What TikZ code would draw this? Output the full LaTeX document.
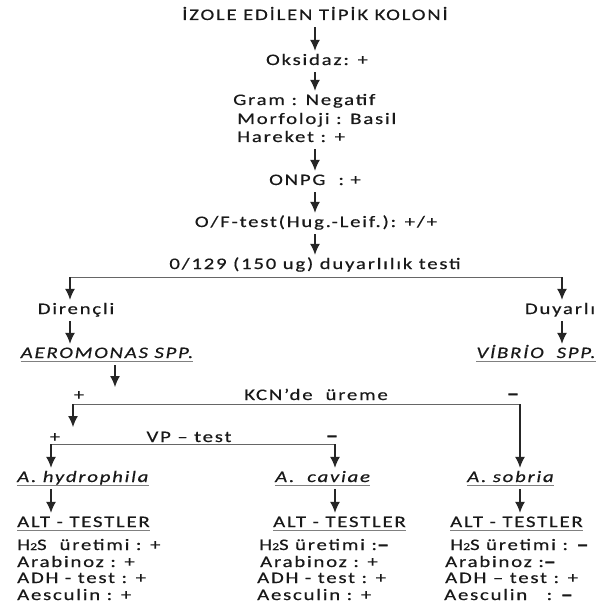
\documentclass[tikz,border=0pt]{standalone}
\usepackage{fontspec}
\setmainfont{Carlito}[FakeStretch=1.3,LetterSpace=11,FakeBold=0.4]
\newfontfamily\dashfont{Carlito}[FakeStretch=1.5,FakeBold=3.5]
\usetikzlibrary{arrows.meta}
\newcommand{\hts}{H{\fontsize{10.5}{10}\selectfont 2}S}
\newcommand{\bm}{{\dashfont\bfseries –}}
\begin{document}
\begin{tikzpicture}[x=1pt,y=-1pt,
  txt/.style={inner xsep=0pt,inner ysep=4pt,text height=10pt,text depth=3pt,anchor=base,font=\fontsize{16}{18}\selectfont,text=black!90},
  ltxt/.style={txt,anchor=base west},
  lst/.style={ltxt,inner ysep=0pt},
  itxt/.style={txt,font=\fontsize{16}{18}\selectfont\itshape},
  arr/.style={draw=black!85,line width=1.2pt,-{Latex[length=11pt,width=10pt]}},
  ln/.style={draw=black!60,line width=1pt},
  ul/.style={draw=black!50,line width=0.8pt}]
\useasboundingbox (0,0) rectangle (608,607);
\fill[white] (0,0) rectangle (608,607);
% main chain
\node[txt] (title) at (315,20) {İZOLE EDİLEN TİPİK KOLONİ};
\node[txt] (oks) at (317,65) {Oksidaz: +};
\node[ltxt] (gram) at (233,105) {Gram : Negatif};
\node[lst] (morf) at (237,124) {Morfoloji : Basil};
\node[ltxt] (har) at (237,142) {Hareket : +};
\node[txt] (onpg) at (315,185) {ONPG\ \ : +};
\node[txt] (of) at (316,227) {O/F-test(Hug.-Leif.): +/+};
\node[txt] (t129) at (315,269) {0/129 (150 ug) duyarlılık testi};
\node[txt] (dir) at (76,314) {Dirençli};
\node[txt] (duy) at (560,314) {Duyarlı};
\node[itxt] (aer) at (107,358) {AEROMONAS SPP.};
\node[itxt] (vib) at (536,358) {VİBRİO\ \ SPP.};
% KCN row
\node[txt] (kp) at (79,400) {+};
\node[txt] (kcn) at (316,400) {KCN’de\ \ üreme};
\node[txt] (km) at (513,399) {\bm};
% VP row
\node[txt] (vp) at (55,442) {+};
\node[txt] (vpt) at (189,442) {VP – test};
\node[txt] (vm) at (332,441) {\bm};
% species
\node[itxt,anchor=base west] (hyd) at (17,482) {A. hydrophila};
\node[itxt,anchor=base west] (cav) at (275,482) {A.\ \ caviae};
\node[itxt,anchor=base west] (sob) at (467,482) {A. sobria};
% sub tests
\node[ltxt] (alt1) at (17,527) {ALT - TESTLER};
\node[ltxt] (alt2) at (273,527) {ALT - TESTLER};
\node[ltxt] (alt3) at (450,527) {ALT - TESTLER};
\node[lst] (h1) at (17,550) {\hts\ \ üretimi : +};
\node[lst] (ar1) at (17,567) {Arabinoz : +};
\node[lst] (ad1) at (17,583) {ADH - test : +};
\node[lst] (ae1) at (17,600) {Aesculin : +};
\node[lst] (h2) at (259,550) {\hts\ üretimi :\bm};
\node[lst] (ar2) at (260,567) {Arabinoz : +};
\node[lst] (ad2) at (257,583) {ADH - test : +};
\node[lst] (ae2) at (257,600) {Aesculin : +};
\node[lst] (h3) at (450,550) {\hts\ üretimi : \bm};
\node[lst] (ar3) at (445,567) {Arabinoz :\bm};
\node[lst] (ad3) at (445,583) {ADH – test : +};
\node[lst] (ae3) at (444,600) {Aesculin\ \ \ : \bm};
% underlines
\foreach \n in {aer,vib,hyd,cav,sob,alt1,alt2,alt3}
  \draw[ul] ([yshift=-3pt]\n.base west) -- ([yshift=-3pt]\n.base east);
% arrows of the main chain
\draw[arr] (title) -- (title |- oks.north);
\draw[arr] (oks.south -| title) -- (title |- gram.north);
\draw[arr] (har.south -| title) -- (title |- onpg.north);
\draw[arr] (onpg) -- (onpg |- of.north);
\draw[arr] (of.south -| onpg) -- (onpg |- t129.north);
% split
\coordinate (bl) at (70,277);
\coordinate (br) at (562,277);
\draw[ln] (bl) -- (br);
\draw[arr] (bl) -- (bl |- dir.north);
\draw[arr] (br) -- (br |- duy.north);
\draw[arr] (dir.south -| bl) -- (bl |- aer.north);
\draw[arr] (duy.south -| br) -- (br |- vib.north);
\coordinate (a3) at (115,387);
\draw[arr] (aer.south -| a3) -- (a3);
% KCN
\coordinate (kl) at (73,404);
\coordinate (kr) at (520,404);
\coordinate (kt) at (73,427);
\draw[ln] (kl) -- (kr);
\draw[arr] (kl) -- (kt);
\draw[arr] (kr) -- (kr |- sob.north);
% VP
\coordinate (vl) at (51,444);
\coordinate (vr) at (335,444);
\draw[ln] (vl) -- (vr);
\draw[arr] (vl) -- (vl |- hyd.north);
\draw[arr] (vr) -- (vr |- cav.north);
% to sub tests
\draw[arr] (hyd.south -| vl) -- (vl |- alt1.north);
\draw[arr] (cav.south -| vr) -- (vr |- alt2.north);
\draw[arr] (sob.south -| kr) -- (kr |- alt3.north);
\end{tikzpicture}
\end{document}
